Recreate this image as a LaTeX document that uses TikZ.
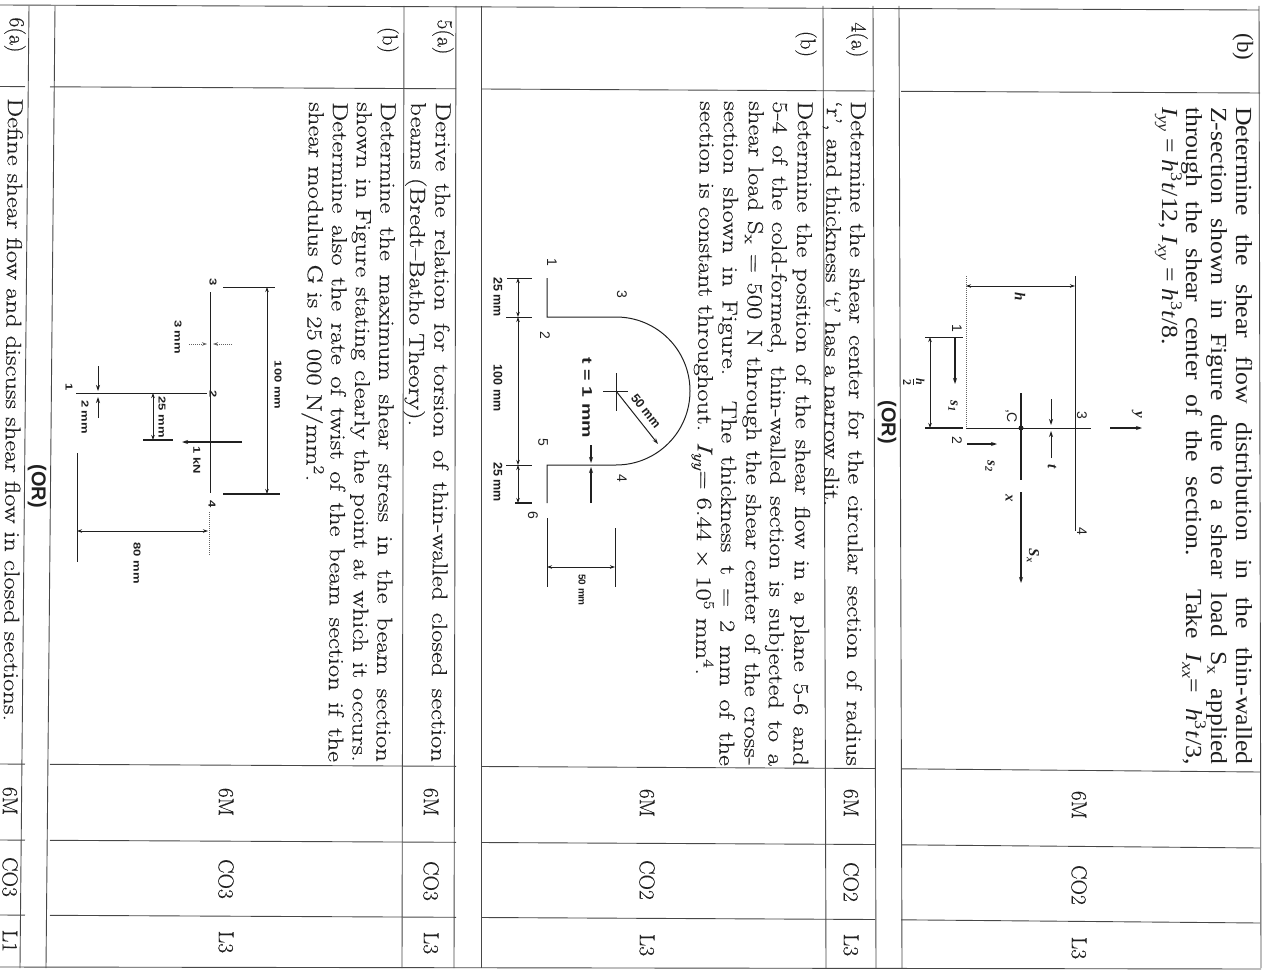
\documentclass[tikz,border=0pt]{standalone}
\usepackage{fontspec}
\setmainfont[FakeBold=0.25]{Latin Modern Roman}
\newfontfamily\tms{Liberation Serif}
\newfontfamily\hlv{Liberation Sans}
\usetikzlibrary{arrows.meta}
\definecolor{ink}{HTML}{202020}
\definecolor{rulec}{HTML}{484848}
\tikzset{
 x=1pt,y=-1pt,
 tline/.style={draw=rulec,line width=0.9pt},
 fig/.style={draw=ink,line width=1pt},
 figb/.style={draw=ink,line width=1.8pt},
 dimn/.style={draw=ink,line width=0.8pt,{Stealth[length=5pt,width=3.5pt]}-{Stealth[length=5pt,width=3.5pt]}},
 arr/.style={draw=ink,line width=1.2pt,-{Stealth[length=6pt,width=4pt]}},
 dotl/.style={draw=ink!70,line width=1pt,densely dotted},
 body/.style={text=ink,inner sep=0pt,anchor=base west},
 cmtxt/.style={body,rotate=-90.4,xscale=1.24,font=\fontsize{21.5}{24}\selectfont},
 tmtxt/.style={body,rotate=-90,xscale=1.12,font=\tms\fontsize{23}{24}\selectfont},
 cen/.style={text=ink,inner sep=0pt,anchor=center,rotate=-90.4,font=\fontsize{21.5}{24}\selectfont},
 ctm/.style={text=ink,inner sep=0pt,anchor=center,rotate=-90,font=\tms\fontsize{23}{24}\selectfont},
 lab/.style={text=ink,inner sep=0pt,anchor=center,rotate=-90,font=\hlv\fontsize{14}{14}\selectfont},
 labi/.style={text=ink,inner sep=0pt,anchor=center,rotate=-90,font=\tms\bfseries\itshape\fontsize{15}{15}\selectfont},
 labs/.style={text=ink,inner sep=0pt,anchor=center,rotate=-90,font=\hlv\bfseries\fontsize{12.5}{13}\selectfont},
 labt/.style={text=ink,inner sep=0pt,anchor=center,rotate=-90,xscale=1.3,font=\hlv\bfseries\fontsize{10}{12}\selectfont},
 ornode/.style={text=ink,inner sep=0pt,anchor=center,rotate=-90,font=\hlv\bfseries\fontsize{20}{20}\selectfont},
}
\newcommand{\jl}[5]{\node[#1] at (#2,#3) {\makebox[#4pt][s]{#5}};}
\newcommand{\subs}[1]{\textsubscript{#1}}
\newcommand{\sps}[1]{\textsuperscript{#1}}
\begin{document}
\begin{tikzpicture}
\useasboundingbox (0,0) rectangle (1271,971);
\fill[white] (0,0) rectangle (1271,971);
% --- table rules
\draw[tline] (0,5) -- (1259,10);
\draw[tline] (0,967) -- (1261,969);
\foreach \a/\b in {1259/1261,899/902,873/876,823/826,481/481,456/454,404/402,55/46,29/20}
  \draw[tline] (\a,6) -- (\b,968);
% horizontal separators
\foreach \ya/\yb in {86.5/93,764/772,840/848,915/923}{
  \draw[tline] (0,\ya) -- (25,{\ya+0.13});
  \draw[tline] (50,{\ya+0.3}) -- (456,{\ya+2.3});
  \draw[tline] (481,{\ya+2.5}) -- (875,{\ya+4.5});
  \draw[tline] (901,{\ya+4.8}) -- (1260,\yb);
}
% --- block: top (b)
\node[ctm] at (1243,47) {(b)};
\jl{tmtxt}{1236}{107}{587}{Determine the shear flow distribution in the thin-walled}
\jl{tmtxt}{1211}{107}{587}{Z-section shown in Figure due to a shear load S\subs{x} applied}
\jl{tmtxt}{1186}{107}{587}{through the shear center of the section. Take \textit{I\subs{xx}}= \textit{h}\sps{3}\textit{t}/3,}
\node[tmtxt] at (1162,107) {\textit{I\subs{yy}} = \textit{h}\sps{3}\textit{t}/12, \textit{I\subs{xy}} = \textit{h}\sps{3}\textit{t}/8.};
\node[cen] at (1079,805) {6M};
\node[cen] at (1079,885) {CO2};
\node[cen] at (1079,948) {L3};
% OR
\node[ornode] at (887,422) {(OR)};
% --- Z-section figure
\draw[fig] (1075,276) -- (1075,531);
\draw[dotl] (966,276) -- (966,428);
\draw[fig] (966,428) -- (1075,428);
\draw[fig] (1075,428) -- (1091,428);
\draw[figb] (925,428) -- (963,428);
\draw[fig] (925,337) -- (963,337);
\draw[dimn] (966,286) -- (1075,286);
\node[labi] at (1020,297) {h};
\draw[dimn] (930,337) -- (930,428);
\node[rotate=-90,text=ink,inner sep=0pt,font=\tms\bfseries\fontsize{12}{12}\selectfont] at (912,382) {\begin{tabular}{@{}c@{}}\textit{h}\\[-1pt]\hline\rule{0pt}{10pt}2\end{tabular}};
\draw[arr] (955,337) -- (955,384);
\node[lab] at (957,328) {1};
\node[labi] at (953,406) {s\subs{1}};
\draw[arr] (1110,428) -- (1142,428);
\node[labi] at (1137,415) {y};
\node[lab] at (1082,415) {3};
\node[lab] at (957,440) {2};
\draw[arr,line width=1.6pt] (967,444) -- (997,444);
\node[labi] at (990,466) {s\subs{2}};
\draw[fig,line width=1.4pt] (1021,393) -- (1021,480);
\draw[arr] (1021,492) -- (1021,583);
\fill[ink] (1021,428) circle (2.5);
\node[lab] at (1011,416) {,C};
\node[labi] at (1009,498) {x};
\node[labi] at (1033,556) {S\subs{x}};
\draw[arr,line width=.8pt] (1051,399) -- (1051,425);
\draw[arr,line width=.8pt] (1051,458) -- (1051,431);
\node[labi] at (1052,467) {t};
\node[lab] at (1082,531) {4};
% --- block 4(a)
\node[cen] at (857,40) {4(a)};
\jl{cmtxt}{851}{101}{536}{Determine the shear center for the circular section of radius}
\node[cmtxt] at (827,101) {‘r’, and thickness ‘t’ has a narrow slit.};
\node[cen] at (851,803) {6M};
\node[cen] at (851,882) {CO2};
\node[cen] at (851,945) {L3};
% --- block 4(b)
\node[cen] at (806,44) {(b)};
\jl{cmtxt}{798}{101}{536}{Determine the position of the shear flow in a plane 5-6 and}
\jl{cmtxt}{773}{101}{536}{5-4 of the cold-formed, thin-walled section is subjected to a}
\jl{cmtxt}{749}{101}{536}{shear load S\subs{x} = 500 N through the shear center of the cross-}
\jl{cmtxt}{724}{101}{536}{section shown in Figure. The thickness t = 2 mm of the}
\node[cmtxt] at (700,101) {section is constant throughout. \textit{I\subs{yy}}= 6.44 × 10\sps{5} mm\sps{4}.};
\node[cen] at (647,803) {6M};
\node[cen] at (647,880) {CO2};
\node[cen] at (647,945) {L3};
% --- channel figure
\draw[fig] (547,278) -- (547,317) -- (616,317) .. controls (657,317) and (690,350) .. (690,391) .. controls (690,432) and (657,465) .. (616,465) -- (547,465) -- (547,503);
\draw[fig] (547,518) -- (547,587);
\draw[fig] (615,528) -- (615,587);
\draw[dimn] (547,567) -- (615,567);
\node[labs,font=\hlv\bfseries\fontsize{10}{12}\selectfont] at (582,590) {50 mm};
\draw[fig] (603,391) -- (628,391);
\draw[fig] (616,373) -- (616,411);
\draw[fig,-{Stealth[length=6pt,width=4pt]}] (616,391) -- (658,444);
\node[labs,rotate=38.4] at (646,411) {50 mm};
\foreach \ya/\yb in {278/317,317/465,465/503} \draw[dimn] (518,\ya) -- (518,\yb);
\draw[fig] (507,278) -- (532,278);
\draw[fig] (506,317) -- (532,317);
\draw[fig] (506,465) -- (532,465);
\draw[figb] (515,503) -- (532,503);
\node[labs] at (498,297) {25 mm};
\node[labs] at (498,388) {100 mm};
\node[labs] at (498,482) {25 mm};
\node[lab] at (552,262) {1};
\node[lab] at (545,335) {2};
\node[lab] at (622,294) {3};
\node[lab] at (622,478) {4};
\node[lab] at (543,442) {5};
\node[lab] at (533,515) {6};
\node[labs,xscale=1.4,font=\hlv\bfseries\fontsize{14}{14}\selectfont] at (587,398) {t = 1 mm};
\draw[arr] (591,445) -- (591,463);
\draw[arr] (591,503) -- (591,467);
% --- block 5(a)
\node[cen] at (443,37) {5(a)};
\jl{cmtxt}{436}{102}{532}{Derive the relation for torsion of thin-walled closed section}
\node[cmtxt] at (411,102) {beams (Bredt–Batho Theory).};
\node[cen] at (431,802) {6M};
\node[cen] at (431,881) {CO3};
\node[cen] at (431,943) {L3};
% --- block 5(b)
\node[cen] at (388,40) {(b)};
\jl{cmtxt}{381}{102}{532}{Determine the maximum shear stress in the beam section}
\jl{cmtxt}{357}{102}{532}{shown in Figure stating clearly the point at which it occurs.}
\jl{cmtxt}{333}{102}{532}{Determine also the rate of twist of the beam section if the}
\node[cmtxt] at (309,102) {shear modulus G is 25 000 N/mm\sps{2}.};
\node[cen] at (226,802) {6M};
\node[cen] at (226,879) {CO3};
\node[cen] at (226,942) {L3};
% --- box-section figure
\draw[fig] (210,292) -- (210,493);
\draw[fig] (76,393) -- (207,393);
\draw[dotl] (209,512) -- (209,555);
\draw[fig] (77,453) -- (77,562);
\draw[dimn] (77,531) -- (208,531);
\node[labt] at (137,563) {80 mm};
\draw[fig] (223,287) -- (275,287);
\draw[figb] (223,494) -- (280,494);
\draw[dimn] (267,287) -- (267,494);
\node[labt] at (278,385) {100 mm};
\node[labt] at (213,282) {3};
\node[labt] at (213,394) {2};
\node[labt] at (212,504) {4};
\node[labt] at (69,387) {1};
\draw[dotl,-{Stealth[length=5pt,width=3.5pt]}] (189,344) -- (207,344);
\draw[dotl,-{Stealth[length=5pt,width=3.5pt]}] (232,344) -- (213,344);
\node[labt] at (178,337) {3 mm};
\draw[arr,line width=.9pt] (98,366) -- (98,391);
\draw[arr,line width=.9pt] (98,418) -- (98,397);
\node[labt] at (85,417) {2 mm};
\draw[dimn] (153,393) -- (153,440);
\draw[figb] (143,440) -- (173,440);
\node[labt] at (162,417) {25 mm};
\draw[arr,line width=1.8pt] (242,442) -- (182,442);
\node[labt] at (197,460) {1 kN};
% --- block 6(a)
\node[ornode] at (37,486) {(OR)};
\node[cen] at (15,35) {6(a)};
\node[cmtxt] at (8,98) {Define shear flow and discuss shear flow in closed sections.};
\node[cen] at (10,801) {6M};
\node[cen] at (10,877) {CO3};
\node[cen] at (10,941) {L1};
\end{tikzpicture}
\end{document}
